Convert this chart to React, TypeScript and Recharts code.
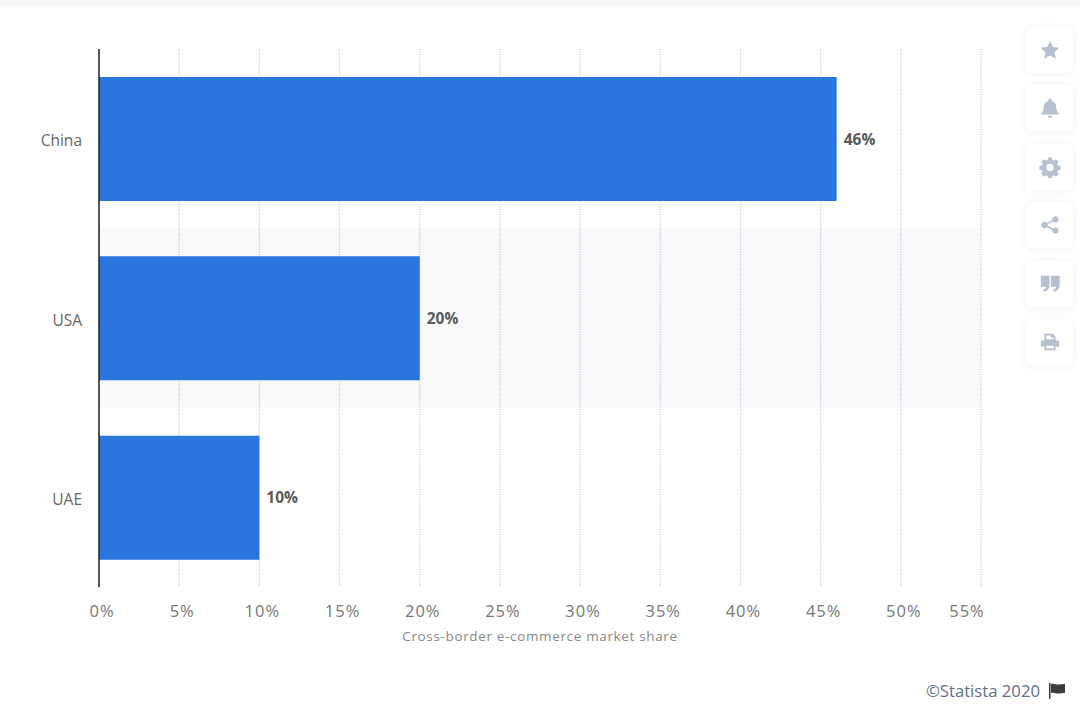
import React from "react";
import { BarChart, Bar, XAxis, YAxis, CartesianGrid, LabelList, ReferenceArea, Label } from "recharts";

const countries = ["China", "USA", "UAE"];
const shares = [46, 20, 10];
const xTicks = [0, 5, 10, 15, 20, 25, 30, 35, 40, 45, 50, 55];
const axisTitle = "Cross-border e-commerce market share";
const credit = "©Statista 2020";
const data = countries.map((country, i) => ({ country, share: shares[i] }));

const iconPaths: string[] = [
  "M12 2l3 6.600 7.200.9-5.300 4.900 1.400 7.100L12 18l-6.300 3.500 1.400-7.100L1.800 9.500 9 8.600z",
  "M12 1.500a2 2 0 0 1 2 2v.8c3.200.9 4.800 3.500 4.800 6.900 0 3.400 1 5 2.700 6.300v1.700h-19v-1.700c1.700-1.300 2.700-2.900 2.700-6.300 0-3.400 1.600-6 4.800-6.900v-.8a2 2 0 0 1 2-2zM9.500 20.500h5a2.500 2.500 0 0 1-5 0z",
  "M10 1.500h4l.6 2.800 1.700.7 2.400-1.500 2.800 2.800-1.500 2.400.7 1.700 2.800.6v4l-2.800.6-.7 1.700 1.500 2.400-2.800 2.800-2.400-1.500-1.700.7-.6 2.800h-4l-.6-2.800-1.700-.7-2.400 1.500-2.800-2.800 1.500-2.400-.7-1.700-2.800-.6v-4l2.800-.6.7-1.700-1.500-2.400 2.800-2.800 2.400 1.500 1.700-.7zM12 8.500a4 4 0 1 0 0 8 4 4 0 0 0 0-8z",
  "M18 2.500a3.500 3.500 0 1 1-2.600 5.800l-6 3a3.500 3.500 0 0 1 0 1.400l6 3a3.500 3.500 0 1 1-.9 1.800l-6-3a3.500 3.500 0 1 1 0-5l6-3A3.500 3.500 0 0 1 18 2.500z",
  "M2 3h9.500v10c0 4-2 6.500-6 7.500l-1-2.300c2-.7 3-1.800 3-3.200H2zM13 3h9.500v10c0 4-2 6.500-6 7.500l-1-2.300c2-.7 3-1.800 3-3.200H13z",
  "M6 3h9l3 3v4H6zM8 5v4h8V7h-3V5zM4 10h16a2 2 0 0 1 2 2v5h-4v4H6v-4H2v-5a2 2 0 0 1 2-2zM8 16v3h8v-3z",
];
const cardTops = [27, 85, 144, 202, 261, 319];

const XTick = (props: any) => {
  const { x, y, payload, index } = props;
  const shift = payload.value === 55 ? -14 : 3;
  return (
    <text x={x + shift} y={y} dy={18} textAnchor="middle" fill="#777" fontSize={16.5} letterSpacing={1} key={index}>
      {`${payload.value}%`}
    </text>
  );
};

export default function App() {
  return (
    <div style={{ position: "absolute", left: 0, top: 0, width: 1080, height: 713, background: "#fff", overflow: "hidden", fontFamily: "'Open Sans', sans-serif" }}>
      <div style={{ position: "absolute", left: 0, top: 0, width: 1080, height: 7, background: "#f9f9fa" }} />
      <BarChart
        width={1080}
        height={713}
        data={data}
        layout="vertical"
        margin={{ top: 49, right: 99, bottom: 65, left: 0 }}
        barCategoryGap={0}
        style={{ fontFamily: "'Open Sans', sans-serif" }}
      >
        <ReferenceArea y1="USA" y2="USA" fill="#5a5aaa" fillOpacity={0.035} stroke="none" ifOverflow="visible" />
        <CartesianGrid horizontal={false} vertical stroke="#c4c6cc" strokeDasharray="1 1.5" strokeWidth={1.2} />
        <XAxis
          type="number"
          dataKey="share"
          domain={[0, 55]}
          ticks={xTicks}
          height={61}
          axisLine={false}
          tickLine={false}
          tick={XTick}
          tickMargin={6}
          interval={0}
        >
          <Label value={axisTitle} position="insideTop" offset={44} fill="#888" fontSize={13.5} letterSpacing={0.65} />
        </XAxis>
        <YAxis
          type="category"
          dataKey="country"
          width={99}
          axisLine={{ stroke: "#222", strokeWidth: 1.5 }}
          tickLine={false}
          tickMargin={11}
          tick={{ fill: "#666", fontSize: 15.5, dy: 2 }}
        />
        <Bar dataKey="share" fill="#2a76dd" barSize={124} isAnimationActive={false}>
          <LabelList dataKey="share" position="right" offset={7} formatter={(v: any) => `${v}%`} fill="#5a5a5a" fontSize={15.5} fontWeight={700} />
        </Bar>
      </BarChart>

      {cardTops.map((top, i) => (
        <div key={top} style={{ position: "absolute", left: 1026, top, width: 47, height: 46, background: "#fff", borderRadius: 6, boxShadow: "0 1px 8px rgba(60,70,90,0.08)" }}>
          <svg width={22} height={22} viewBox="0 0 24 24" style={{ position: "absolute", left: 12.5, top: 12 }}>
            <path d={iconPaths[i]} fill="#b6c0ce" fillRule="evenodd" />
          </svg>
        </div>
      ))}

      <div style={{ position: "absolute", right: 40, top: 681, fontSize: 16.7, lineHeight: "20px", color: "#5f6f88", whiteSpace: "nowrap" }}>{credit}</div>
      <svg width={18} height={18} viewBox="0 0 18 18" style={{ position: "absolute", left: 1048, top: 682 }}>
        <path d="M1 1h1.500v16H1zM3 2c3-1 5 1 8 .5 2-.3 4-.7 6-.5v9c-2-.3-4 .2-6 .5-3 .5-5-1.500-8-.5z" fill="#3d3d3d" />
      </svg>
    </div>
  );
}
